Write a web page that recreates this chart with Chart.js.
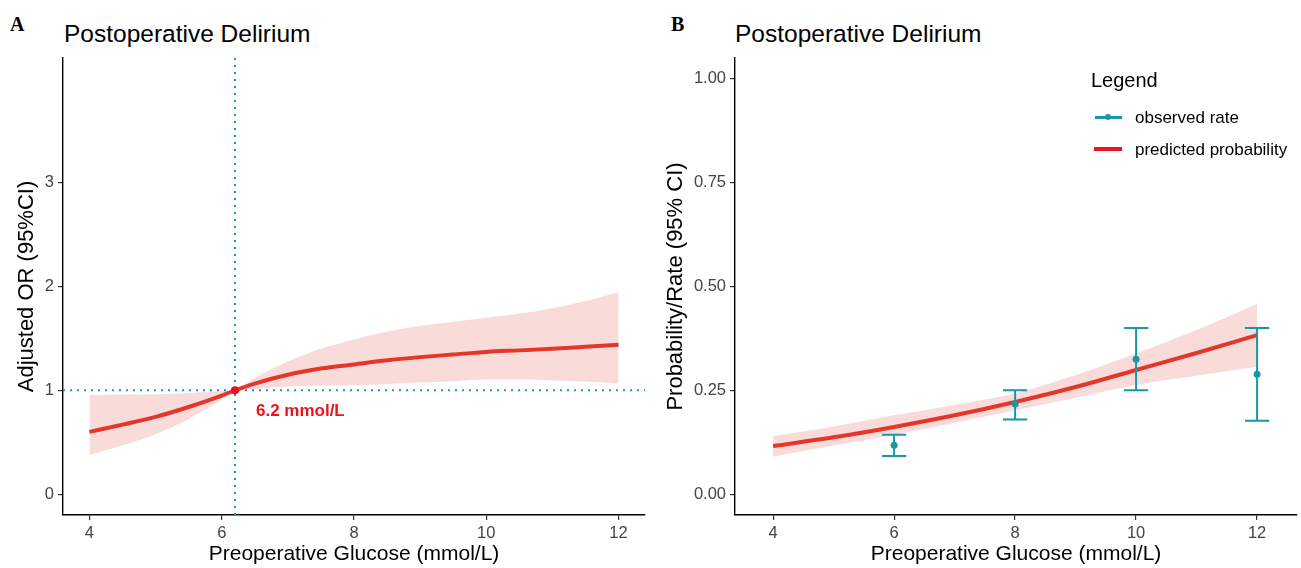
<!DOCTYPE html>
<html>
<head>
<meta charset="utf-8">
<script src="https://cdn.jsdelivr.net/npm/chart.js@4.4.1/dist/chart.umd.min.js"></script>
<style>
  body { margin: 0; background: #fff; width: 1301px; height: 568px; overflow: hidden; position: relative;
         font-family: "Liberation Sans", Arial, sans-serif; }
  canvas { position: absolute; top: 0; }
  #chartA { left: 0; }
  #chartB { left: 650px; }
  .abs { position: absolute; line-height: 1; white-space: nowrap; color: #000; }
  .tag { top: 13px; font: bold 20px "Liberation Serif", "Times New Roman", serif; }
  .title { top: 22px; font-size: 24.5px; }
  .key { position: absolute; }
</style>
</head>
<body>
<div class="abs tag" style="left:10px">A</div>
<div class="abs title" style="left:64px">Postoperative Delirium</div>
<div class="abs tag" style="left:671px">B</div>
<div class="abs title" style="left:735px">Postoperative Delirium</div>

<canvas id="chartA" width="650" height="568"></canvas>
<canvas id="chartB" width="651" height="568"></canvas>

<div class="abs" style="left:1091px; top:70px; font-size:20px">Legend</div>
<div class="key" style="left:1095px; top:116px; width:27px; height:3px; background:#1798A8"></div>
<div class="key" style="left:1105px; top:114px; width:6px; height:6px; border-radius:50%; background:#1798A8"></div>
<div class="abs" style="left:1135px; top:109px; font-size:17px">observed rate</div>
<div class="key" style="left:1094px; top:147px; width:28px; height:4px; background:#E8141E"></div>
<div class="abs" style="left:1135px; top:141px; font-size:17px">predicted probability</div>

<script>
// panel A: adjusted OR curve with 95% CI band
const glucoseA = [4, 4.5, 5, 5.5, 6, 6.2, 6.5, 7, 7.5, 8, 8.5, 9, 9.5, 10, 10.5, 11, 11.5, 12];
const orFit   = [0.60, 0.67, 0.745, 0.84, 0.95, 1.00, 1.065, 1.15, 1.21, 1.25, 1.29, 1.32, 1.345, 1.37, 1.385, 1.40, 1.42, 1.44];
const orUpper = [0.955, 0.96, 0.961, 0.974, 0.991, 1.00, 1.12, 1.277, 1.40, 1.49, 1.567, 1.62, 1.66, 1.70, 1.738, 1.79, 1.86, 1.944];
const orLower = [0.377, 0.468, 0.578, 0.725, 0.911, 1.00, 1.013, 1.036, 1.046, 1.05, 1.062, 1.075, 1.087, 1.104, 1.104, 1.096, 1.085, 1.067];
const refGlucose = 6.2;
const refOR = 1;
const refText = "6.2 mmol/L";

// panel B: predicted probability vs observed rate
const glucoseB  = [4, 5, 6, 7, 8, 9, 10, 11, 12];
const probFit   = [0.116, 0.137, 0.162, 0.190, 0.222, 0.258, 0.299, 0.340, 0.383];
const probUpper = [0.140, 0.163, 0.190, 0.215, 0.243, 0.287, 0.339, 0.395, 0.458];
const probLower = [0.090, 0.117, 0.143, 0.172, 0.202, 0.232, 0.263, 0.285, 0.307];

const obsGlucose = [6, 8, 10, 12];
const obsRate    = [0.118, 0.217, 0.325, 0.289];
const obsLower   = [0.092, 0.180, 0.250, 0.177];
const obsUpper   = [0.143, 0.250, 0.400, 0.400];

const xTicks  = [4, 6, 8, 10, 12];
const yTicksA = [0, 1, 2, 3];
const yTicksB = [0, 0.25, 0.5, 0.75, 1];

const RED = "#E4362A";
const BAND = "#F9DCD9";
const TEAL = "#1798A8";
const FONT = "'Liberation Sans', Arial, sans-serif";

const pts = (xs, ys) => xs.map((x, i) => ({ x: x, y: ys[i] }));

function axis(min, max, ticks, title, size, titleSize, titlePad, fmt) {
  return {
    type: "linear", min: min, max: max,
    afterBuildTicks: s => { s.ticks = ticks.map(v => ({ value: v })); },
    afterFit: s => { if (s.isHorizontal()) s.height = size; else s.width = size; },
    grid: { display: true, drawOnChartArea: false, drawTicks: true, tickLength: 5, color: "#333", lineWidth: 1.2 },
    border: { display: true, color: "#000", width: 1.4 },
    ticks: { color: "#444", font: { family: FONT, size: 16.5 }, padding: 4,
             callback: fmt || (v => v) },
    title: { display: true, text: title, color: "#000", font: { family: FONT, size: titleSize }, padding: titlePad }
  };
}

const refLabel = {
  id: "refLabel",
  afterDatasetsDraw(chart) {
    const { ctx, scales: { x, y } } = chart;
    ctx.save();
    ctx.font = "bold 17px " + FONT;
    ctx.fillStyle = "#E8141E";
    ctx.textBaseline = "middle";
    ctx.fillText(refText, x.getPixelForValue(refGlucose) + 21, y.getPixelForValue(refOR) + 21);
    ctx.restore();
  }
};

const dotted = { borderColor: TEAL, borderWidth: 2, borderDash: [2, 5], borderCapStyle: "butt", pointRadius: 0, order: 2 };

new Chart(document.getElementById("chartA"), {
  type: "line",
  data: {
    datasets: [
      { data: [{ x: refGlucose, y: refOR }], showLine: false, pointRadius: 4,
        pointBackgroundColor: "#E8141E", pointBorderWidth: 0, order: 0 },
      { data: pts(glucoseA, orFit), borderColor: RED, borderWidth: 4, pointRadius: 0,
        cubicInterpolationMode: "monotone", order: 1 },
      Object.assign({ data: [{ x: 3.6, y: refOR }, { x: 12.4, y: refOR }] }, dotted),
      Object.assign({ data: [{ x: refGlucose, y: -0.2 }, { x: refGlucose, y: 4.2 }] }, dotted),
      { data: pts(glucoseA, orUpper), borderWidth: 0, pointRadius: 0, backgroundColor: BAND,
        fill: "+1", cubicInterpolationMode: "monotone", order: 3 },
      { data: pts(glucoseA, orLower), borderWidth: 0, pointRadius: 0,
        cubicInterpolationMode: "monotone", order: 4 }
    ]
  },
  options: {
    responsive: false, animation: false,
    layout: { padding: { top: 58, right: 5, left: 0, bottom: 0 } },
    plugins: { legend: { display: false }, tooltip: { enabled: false } },
    scales: {
      x: axis(3.6, 12.4, xTicks, "Preoperative Glucose (mmol/L)", 53, 21, { top: 0, bottom: 1 }),
      y: axis(-0.2, 4.2, yTicksA, "Adjusted OR (95%CI)", 63, 22, { top: 14, bottom: 0 })
    }
  },
  plugins: [refLabel]
});

// error bars as line segments split by null gaps
const capHalf = 0.2;
const errSegs = [];
obsGlucose.forEach((g, i) => {
  errSegs.push({ x: g, y: obsLower[i] }, { x: g, y: obsUpper[i] }, { x: g, y: null });
  errSegs.push({ x: g - capHalf, y: obsUpper[i] }, { x: g + capHalf, y: obsUpper[i] }, { x: g, y: null });
  errSegs.push({ x: g - capHalf, y: obsLower[i] }, { x: g + capHalf, y: obsLower[i] }, { x: g, y: null });
});

new Chart(document.getElementById("chartB"), {
  type: "line",
  data: {
    datasets: [
      { data: pts(obsGlucose, obsRate), showLine: false, pointRadius: 3.5,
        pointBackgroundColor: TEAL, pointBorderWidth: 0, order: 0 },
      { data: errSegs, borderColor: TEAL, borderWidth: 2, pointRadius: 0, spanGaps: false, order: 1 },
      { data: pts(glucoseB, probFit), borderColor: RED, borderWidth: 4, pointRadius: 0,
        cubicInterpolationMode: "monotone", order: 2 },
      { data: pts(glucoseB, probUpper), borderWidth: 0, pointRadius: 0, backgroundColor: BAND,
        fill: "+1", cubicInterpolationMode: "monotone", order: 3 },
      { data: pts(glucoseB, probLower), borderWidth: 0, pointRadius: 0,
        cubicInterpolationMode: "monotone", order: 4 }
    ]
  },
  options: {
    responsive: false, animation: false,
    layout: { padding: { top: 58, right: 4, left: 0, bottom: 0 } },
    plugins: { legend: { display: false }, tooltip: { enabled: false } },
    scales: {
      x: axis(3.37, 12.66, xTicks, "Preoperative Glucose (mmol/L)", 53, 21, { top: 0, bottom: 1 }),
      y: axis(-0.05, 1.05, yTicksB, "Probability/Rate (95% CI)", 85, 22, { top: 13, bottom: 0 }, v => v.toFixed(2))
    }
  }
});
</script>
</body>
</html>
